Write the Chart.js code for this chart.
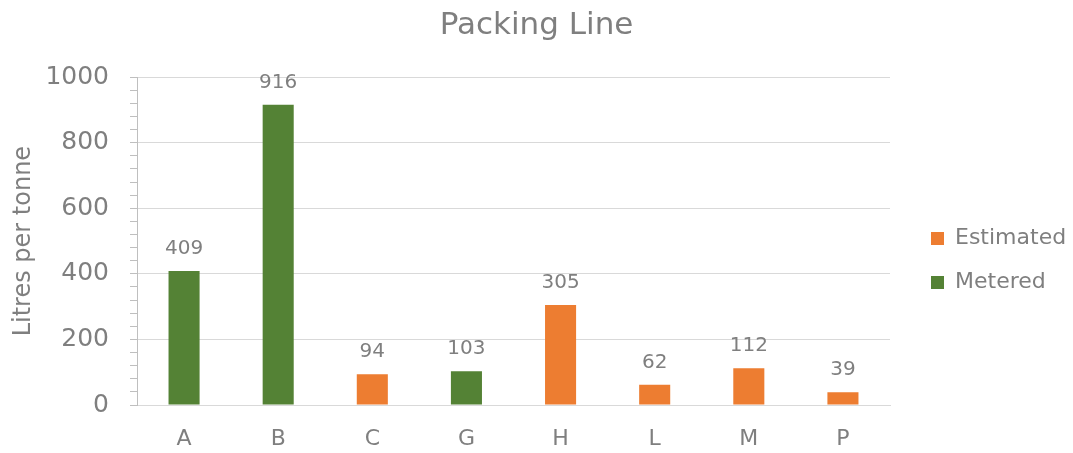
<!DOCTYPE html>
<html>
<head>
<meta charset="utf-8">
<script src="https://cdn.jsdelivr.net/npm/chart.js@4/dist/chart.umd.min.js"></script>
<style>
  html, body { margin: 0; padding: 0; background: #fff; }
  #wrap { width: 1073px; height: 453px; }
</style>
</head>
<body>
<div id="wrap"><canvas id="chart"></canvas></div>
<script>
const categories = ['A', 'B', 'C', 'G', 'H', 'L', 'M', 'P'];
const estimated = [null, null, 94, null, 305, 62, 112, 39];
const metered = [409, 916, null, 103, null, null, null, null];
const yMax = 1000;
const yMajorStep = 200;
const yMinorStep = 40;

const FONT = "'DejaVu Sans', sans-serif";
const TEXT = '#7f7f7f';

// etiquetas de valor encima de cada barra
const barLabels = {
    id: 'barLabels',
    afterDatasetsDraw(chart) {
        const ctx = chart.ctx;
        ctx.save();
        ctx.font = '20px ' + FONT;
        ctx.fillStyle = TEXT;
        ctx.textAlign = 'center';
        ctx.textBaseline = 'bottom';
        chart.data.datasets.forEach((ds, i) => {
            chart.getDatasetMeta(i).data.forEach((bar, j) => {
                const v = ds.data[j];
                if (v === null || v === undefined) return;
                ctx.fillText(String(v), bar.x, bar.y - 12);
            });
        });
        ctx.restore();
    }
};

// leyenda a la derecha: ancho fijo y un poco separada del área del gráfico
const LEGEND_W = 183;
const LEGEND_SHIFT_X = 19;
const LEGEND_SHIFT_Y = 68;
const legendPlace = {
    id: 'legendPlace',
    beforeLayout(chart) {
        const lg = chart.legend;
        if (lg && !lg._fixed) {
            const fit = lg.fit;
            lg.fit = function () {
                fit.call(this);
                this.width = LEGEND_W;
            };
            lg._fixed = true;
        }
    },
    afterLayout(chart) {
        const lg = chart.legend;
        if (!lg) return;
        lg.left += LEGEND_SHIFT_X;
        lg.top += LEGEND_SHIFT_Y;
    }
};

new Chart(document.getElementById('chart'), {
    type: 'bar',
    data: {
        labels: categories,
        datasets: [
            {
                label: 'Estimated',
                data: estimated,
                backgroundColor: '#ED7D31',
                barPercentage: 0.33,
                categoryPercentage: 1
            },
            {
                label: 'Metered',
                data: metered,
                backgroundColor: '#548235',
                barPercentage: 0.33,
                categoryPercentage: 1
            }
        ]
    },
    options: {
        responsive: true,
        maintainAspectRatio: false,
        animation: false,
        layout: { padding: 0 },
        plugins: {
            title: {
                display: true,
                text: 'Packing Line',
                color: TEXT,
                font: { family: FONT, size: 31, weight: 'normal' },
                padding: { top: 7, bottom: 33 }
            },
            legend: {
                position: 'right',
                labels: {
                    boxWidth: 13,
                    boxHeight: 13,
                    padding: 22,
                    color: TEXT,
                    font: { family: FONT, size: 22 }
                }
            },
            tooltip: { enabled: false }
        },
        scales: {
            x: {
                stacked: true,
                grid: { drawOnChartArea: false, drawTicks: false },
                border: { color: '#d9d9d9' },
                ticks: {
                    color: TEXT,
                    font: { family: FONT, size: 22 },
                    padding: 21
                },
                afterFit: s => { s.height = 48; }
            },
            y: {
                stacked: true,
                min: 0,
                max: yMax,
                title: {
                    display: true,
                    text: 'Litres per tonne',
                    color: TEXT,
                    font: { family: FONT, size: 24 },
                    padding: { top: 9, bottom: 0 }
                },
                border: { color: '#bfbfbf' },
                grid: {
                    color: c => (c.tick && c.tick.value % yMajorStep === 0 && c.tick.value !== 0) ? '#d9d9d9' : 'rgba(0,0,0,0)',
                    tickColor: '#bfbfbf',
                    tickLength: 7
                },
                ticks: {
                    stepSize: yMinorStep,
                    maxTicksLimit: 100,
                    autoSkip: false,
                    color: TEXT,
                    font: { family: FONT, size: 25 },
                    padding: 21,
                    // marcas menores cada 40 sin texto (con null Chart.js quita la marca)
                    callback: v => (v % yMajorStep === 0 ? v : '')
                },
                afterFit: s => { s.width = 137; }
            }
        }
    },
    plugins: [barLabels, legendPlace]
});
</script>
</body>
</html>
